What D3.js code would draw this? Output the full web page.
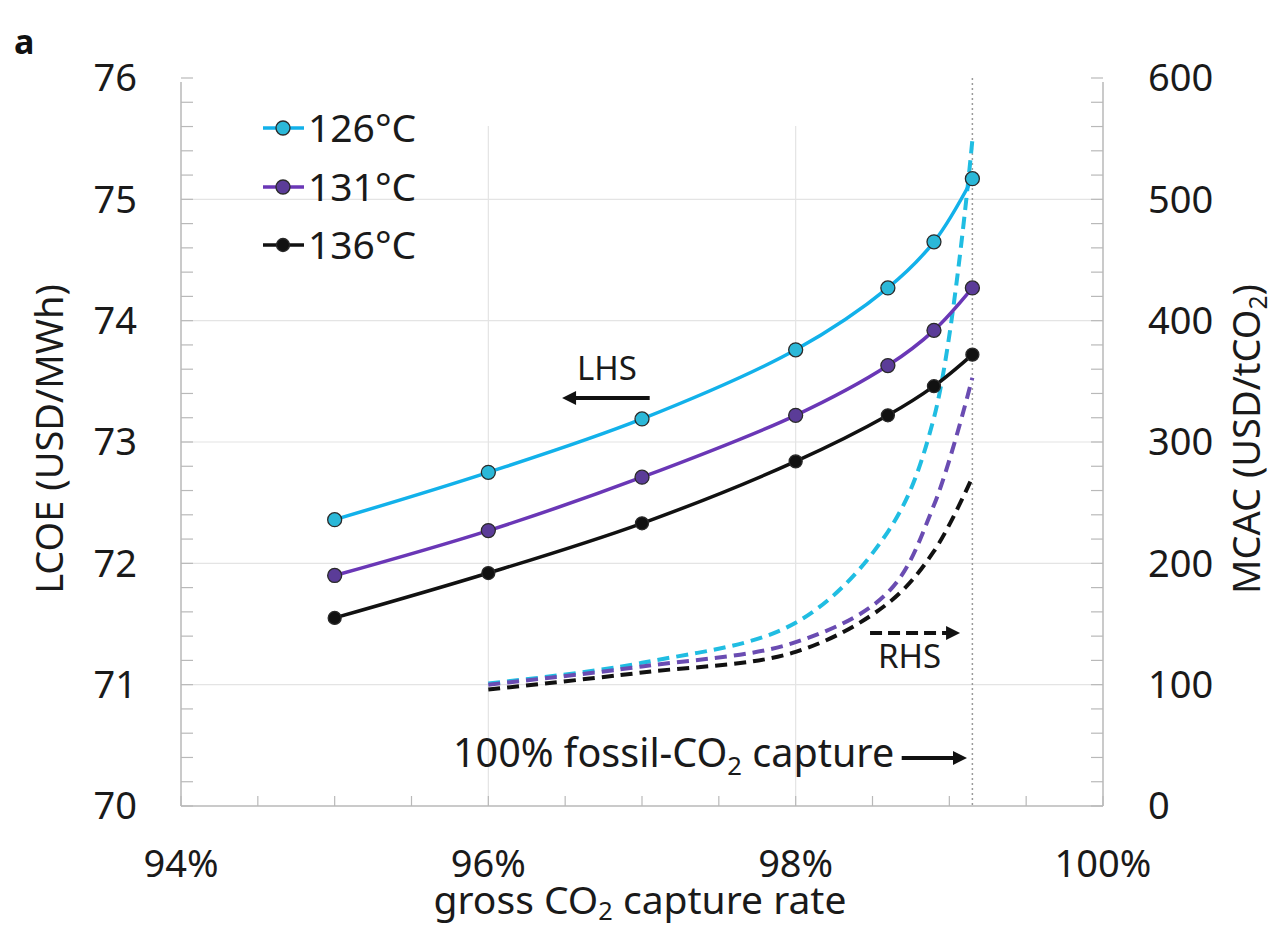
<!DOCTYPE html>
<html>
<head>
<meta charset="utf-8">
<script src="https://cdn.jsdelivr.net/npm/d3@7"></script>
<style>
  html, body { margin: 0; padding: 0; background: #fff; }
  svg { display: block; font-family: "Noto Sans", "Open Sans", sans-serif; }
</style>
</head>
<body>
<svg id="chart" width="1275" height="932"></svg>
<script>
// ---- data ----
const captureRate = [95.0, 96.0, 97.0, 98.0, 98.6, 98.9, 99.15];      // % gross CO2 capture
const lcoe126 = [72.36, 72.75, 73.19, 73.76, 74.27, 74.65, 75.17];    // USD/MWh
const lcoe131 = [71.90, 72.27, 72.71, 73.22, 73.63, 73.92, 74.27];
const lcoe136 = [71.55, 71.92, 72.33, 72.84, 73.22, 73.46, 73.72];
const mcacRate = [96.0, 97.0, 98.0, 98.6, 98.9, 99.15];               // % gross CO2 capture
const mcac126 = [101, 118, 151, 226, 320, 549];                       // USD/tCO2
const mcac131 = [100, 115, 135, 176, 248, 353];
const mcac136 = [96, 110, 127, 167, 210, 271];
const seriesNames = ["126°C", "131°C", "136°C"];
const xTicks = [94, 96, 98, 100];
const yLeftTicks = [70, 71, 72, 73, 74, 75, 76];
const yRightTicks = [0, 100, 200, 300, 400, 500, 600];
const fossilFull = 99.15; // 100% fossil-CO2 capture line

// ---- styles ----
const lineColors = ["#12b1ea", "#6a37b6", "#111111"];
const markerColors = ["#2bb8d8", "#5b3c98", "#111111"];
const dashColors = ["#20bde2", "#6a4cb2", "#111111"];

const svg = d3.select("#chart");
const m = { left: 181, right: 1103, top: 78, bottom: 806 };

const x = d3.scaleLinear().domain([94, 100]).range([m.left, m.right]);
const yL = d3.scaleLinear().domain([70, 76]).range([m.bottom, m.top]);
const yR = d3.scaleLinear().domain([0, 600]).range([m.bottom, m.top]);

const FS = 38;
const gridC = "#e4e4e4", axisC = "#b9b9b9";

// gridlines
svg.append("g").selectAll("line").data(yLeftTicks.filter(d => d > 70 && d < 76)).join("line")
  .attr("x1", m.left).attr("x2", m.right).attr("y1", d => yL(d)).attr("y2", d => yL(d))
  .attr("stroke", gridC).attr("stroke-width", 1.2);
svg.append("g").selectAll("line").data(xTicks.filter(d => d > 94 && d < 100)).join("line")
  .attr("x1", d => x(d)).attr("x2", d => x(d)).attr("y1", m.top + 48).attr("y2", m.bottom)
  .attr("stroke", gridC).attr("stroke-width", 1.2);

// minor ticks
const minorY = d3.range(70, 76.001, 0.2);
svg.append("g").selectAll("line").data(minorY).join("line")
  .attr("x1", m.left).attr("x2", m.left + 12).attr("y1", d => yL(d)).attr("y2", d => yL(d))
  .attr("stroke", axisC).attr("stroke-width", 1.2);
svg.append("g").selectAll("line").data(minorY).join("line")
  .attr("x1", m.right - 12).attr("x2", m.right).attr("y1", d => yL(d)).attr("y2", d => yL(d))
  .attr("stroke", axisC).attr("stroke-width", 1.2);
svg.append("g").selectAll("line").data(d3.range(94, 100.001, 0.5)).join("line")
  .attr("x1", d => x(d)).attr("x2", d => x(d)).attr("y1", m.bottom - 10).attr("y2", m.bottom)
  .attr("stroke", axisC).attr("stroke-width", 1.2);

// frame
svg.append("line").attr("x1", m.left).attr("x2", m.left).attr("y1", m.top + 4).attr("y2", m.bottom)
  .attr("stroke", axisC).attr("stroke-width", 1.5);
svg.append("line").attr("x1", m.right).attr("x2", m.right).attr("y1", m.top + 4).attr("y2", m.bottom)
  .attr("stroke", axisC).attr("stroke-width", 1.5);
svg.append("line").attr("x1", m.left).attr("x2", m.right).attr("y1", m.bottom).attr("y2", m.bottom)
  .attr("stroke", axisC).attr("stroke-width", 1.5);

// 100% fossil line
svg.append("line").attr("x1", x(fossilFull)).attr("x2", x(fossilFull))
  .attr("y1", m.top).attr("y2", m.bottom)
  .attr("stroke", "#9a9a9a").attr("stroke-width", 1.5).attr("stroke-dasharray", "2,3");

// tick labels
svg.append("g").selectAll("text").data(yLeftTicks).join("text")
  .attr("x", m.left - 44).attr("y", d => yL(d)).attr("dy", "0.35em")
  .attr("text-anchor", "end").attr("font-size", FS).attr("fill", "#1a1a1a").text(d => d);
svg.append("g").selectAll("text").data(yRightTicks).join("text")
  .attr("x", m.right + 45).attr("y", d => yR(d)).attr("dy", "0.35em")
  .attr("text-anchor", "start").attr("font-size", FS).attr("fill", "#1a1a1a").text(d => d);
svg.append("g").selectAll("text").data(xTicks).join("text")
  .attr("x", d => x(d)).attr("y", 877)
  .attr("text-anchor", "middle").attr("font-size", FS).attr("fill", "#1a1a1a").text(d => d + "%");

// axis titles
function sub(textSel, parts, subDy) {
  const d = subDy || "0.3em";
  parts.forEach(p => {
    if (p.sub) {
      textSel.append("tspan").attr("font-size", "0.65em").attr("dy", d).text(p.t);
    } else {
      const ts = textSel.append("tspan").text(p.t);
      if (p.back) ts.attr("dy", "-" + (parseFloat(d) * 0.65) + "em");
    }
  });
}
const xt = svg.append("text").attr("x", (m.left + m.right) / 2 - 2).attr("y", 914)
  .attr("text-anchor", "middle").attr("font-size", 39).attr("fill", "#1a1a1a");
sub(xt, [{ t: "gross CO" }, { t: "2", sub: true }, { t: " capture rate", back: true }], "0.25em");

svg.append("text").attr("transform", `translate(63,${(m.top + m.bottom) / 2 - 3}) rotate(-90)`)
  .attr("text-anchor", "middle").attr("font-size", FS).attr("fill", "#1a1a1a").text("LCOE (USD/MWh)");
const rt = svg.append("text").attr("transform", `translate(1260,${(m.top + m.bottom) / 2 - 3}) rotate(-90)`)
  .attr("text-anchor", "middle").attr("font-size", FS).attr("fill", "#1a1a1a");
sub(rt, [{ t: "MCAC (USD/tCO" }, { t: "2", sub: true }, { t: ")", back: true }]);

// panel letter
svg.append("text").attr("x", 14).attr("y", 54).attr("font-size", 34).attr("font-weight", "bold")
  .attr("fill", "#111").text("a");

// MCAC dashed lines (RHS)
const dashLine = d3.line().x(d => x(d[0])).y(d => yR(d[1])).curve(d3.curveCatmullRom.alpha(0.5));
[mcac126, mcac131, mcac136].forEach((vals, i) => {
  svg.append("path").datum(mcacRate.map((r, j) => [r, vals[j]]))
    .attr("d", dashLine).attr("fill", "none").attr("stroke", dashColors[i])
    .attr("stroke-width", 4).attr("stroke-dasharray", "12,7");
});

// LCOE solid lines (LHS)
const solidLine = d3.line().x(d => x(d[0])).y(d => yL(d[1])).curve(d3.curveCatmullRom.alpha(0.5));
[lcoe126, lcoe131, lcoe136].forEach((vals, i) => {
  const pts = captureRate.map((r, j) => [r, vals[j]]);
  svg.append("path").datum(pts).attr("d", solidLine).attr("fill", "none")
    .attr("stroke", lineColors[i]).attr("stroke-width", 3.5);
  svg.append("g").selectAll("circle").data(pts).join("circle")
    .attr("cx", d => x(d[0])).attr("cy", d => yL(d[1])).attr("r", i === 2 ? 6.5 : 7)
    .attr("fill", markerColors[i]).attr("stroke", "#2a2a2a").attr("stroke-width", 1.3);
});

// legend
const legY = [128, 187, 245];
seriesNames.forEach((name, i) => {
  const g = svg.append("g");
  g.append("line").attr("x1", 263).attr("x2", 304).attr("y1", legY[i]).attr("y2", legY[i])
    .attr("stroke", lineColors[i]).attr("stroke-width", 3.5);
  g.append("circle").attr("cx", 283).attr("cy", legY[i]).attr("r", i === 2 ? 6.5 : 7)
    .attr("fill", markerColors[i]).attr("stroke", "#2a2a2a").attr("stroke-width", 1.3);
  g.append("text").attr("x", 308).attr("y", legY[i]).attr("dy", "0.36em")
    .attr("font-size", 39).attr("fill", "#1a1a1a").text(name);
});

// arrowheads
function arrowHead(tipX, tipY, dir) {
  const L = 14, W = 7;
  svg.append("path")
    .attr("d", `M${tipX},${tipY} L${tipX - dir * L},${tipY - W} L${tipX - dir * L},${tipY + W} Z`)
    .attr("fill", "#111");
}

// LHS annotation
svg.append("text").attr("x", x(96.577)).attr("y", yL(73.51)).attr("font-size", 33)
  .attr("fill", "#1a1a1a").text("LHS");
svg.append("line").attr("x1", x(97.05)).attr("x2", x(96.48) + 10)
  .attr("y1", yL(73.363)).attr("y2", yL(73.363)).attr("stroke", "#111").attr("stroke-width", 4);
arrowHead(x(96.48), yL(73.363), -1);

// RHS annotation
svg.append("text").attr("x", x(98.536)).attr("y", yR(113.7)).attr("font-size", 33)
  .attr("fill", "#1a1a1a").text("RHS");
svg.append("line").attr("x1", x(98.484)).attr("x2", x(99.07) - 12)
  .attr("y1", yR(142.6)).attr("y2", yR(142.6)).attr("stroke", "#111").attr("stroke-width", 4)
  .attr("stroke-dasharray", "12,6");
arrowHead(x(99.07), yR(142.6), 1);

// 100% fossil-CO2 capture annotation
const ft = svg.append("text").attr("x", x(95.77)).attr("y", yR(32)).attr("font-size", 39.5)
  .attr("fill", "#1a1a1a");
sub(ft, [{ t: "100% fossil-CO" }, { t: "2", sub: true }, { t: " capture", back: true }]);
svg.append("line").attr("x1", x(98.69)).attr("x2", x(99.115) - 10)
  .attr("y1", yR(39.6)).attr("y2", yR(39.6)).attr("stroke", "#111").attr("stroke-width", 4);
arrowHead(x(99.115), yR(39.6), 1);
</script>
</body>
</html>
